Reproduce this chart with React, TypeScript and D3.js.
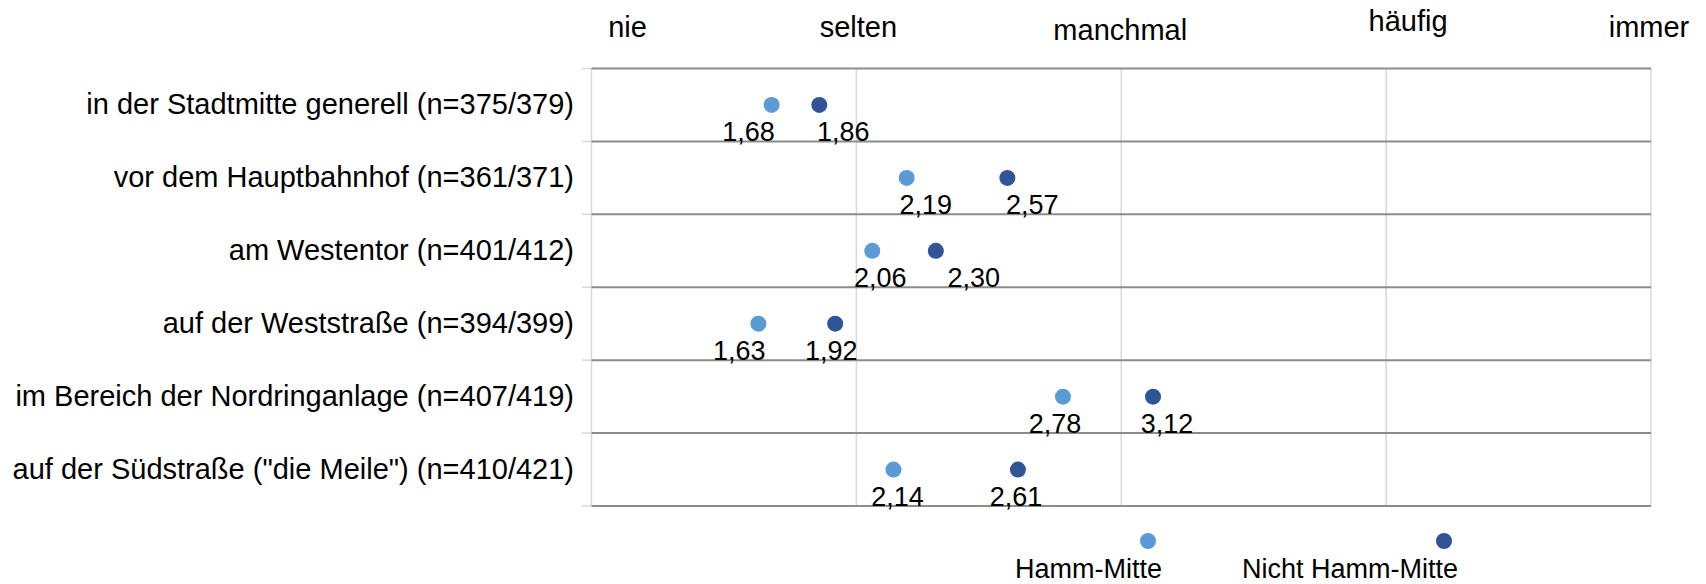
import React from "react";
import * as d3 from "d3";

const categories = [
  "in der Stadtmitte generell (n=375/379)",
  "vor dem Hauptbahnhof (n=361/371)",
  "am Westentor (n=401/412)",
  "auf der Weststraße (n=394/399)",
  "im Bereich der Nordringanlage (n=407/419)",
  'auf der Südstraße ("die Meile") (n=410/421)',
];
const hammMitte = [1.68, 2.19, 2.06, 1.63, 2.78, 2.14];
const nichtHammMitte = [1.86, 2.57, 2.3, 1.92, 3.12, 2.61];
const scaleLabels = ["nie", "selten", "manchmal", "häufig", "immer"];
const scaleValues = [1, 2, 3, 4, 5];
const seriesNames = ["Hamm-Mitte", "Nicht Hamm-Mitte"];

// manual label nudges (px), as in the original
const hammLabelDx = [-23, 19, 8, -19, -8, 4];
const nichtLabelDx = [24, 25, 38, -4, 14, -2];
const headerDx = [36, 2, -1, 22, -2];
const headerDy = [0, 0, 3, -6, 0];

const W = 1706;
const H = 584;
const FONT = "'Liberation Sans', Arial, sans-serif";
const LIGHT = "#5B9BD5";
const DARK = "#2F5597";

export default function App() {
  const x = d3.scaleLinear().domain([1, 5]).range([591.5, 1651]);
  const y = d3.scaleBand<string>().domain(categories).range([68.5, 506]);
  const fmt = (v: number) => d3.format(".2f")(v).replace(".", ",");
  const bw = y.bandwidth();
  const lines = categories.map((c) => y(c)!).concat([y.range()[1]]);

  return (
    <svg
      width={W}
      height={H}
      style={{ position: "absolute", left: 0, top: 0, background: "#fff" }}
      fontFamily={FONT}
    >
      {/* header scale labels */}
      {scaleValues.map((v, i) => (
        <text
          key={"h" + i}
          x={x(v) + headerDx[i]}
          y={37 + headerDy[i]}
          fontSize={29}
          textAnchor="middle"
          fill="#000"
        >
          {scaleLabels[i]}
        </text>
      ))}

      {/* vertical gridlines */}
      {scaleValues.map((v) => (
        <line
          key={"g" + v}
          x1={x(v)}
          x2={x(v)}
          y1={y.range()[0]}
          y2={y.range()[1]}
          stroke="#d9d9d9"
          strokeWidth={1.5}
        />
      ))}

      {/* horizontal row lines and tick stubs */}
      {lines.map((ly, i) => (
        <g key={"l" + i}>
          <line x1={582} x2={x(1)} y1={ly} y2={ly} stroke="#d9d9d9" strokeWidth={1.5} />
          <line x1={x(1)} x2={x(5)} y1={ly} y2={ly} stroke="#8c8c8c" strokeWidth={2} />
        </g>
      ))}

      {/* category labels */}
      {categories.map((c) => (
        <text
          key={c}
          x={574}
          y={y(c)! + bw / 2 + 9}
          fontSize={29}
          textAnchor="end"
          fill="#000"
        >
          {c}
        </text>
      ))}

      {/* points + labels */}
      {categories.map((c, i) => {
        const cy = y(c)! + bw / 2;
        return (
          <g key={"p" + i}>
            <circle cx={x(hammMitte[i])} cy={cy} r={8} fill={LIGHT} />
            <circle cx={x(nichtHammMitte[i])} cy={cy} r={8} fill={DARK} />
            <text
              x={x(hammMitte[i]) + hammLabelDx[i]}
              y={cy + 36}
              fontSize={27}
              textAnchor="middle"
              fill="#000"
            >
              {fmt(hammMitte[i])}
            </text>
            <text
              x={x(nichtHammMitte[i]) + nichtLabelDx[i]}
              y={cy + 36}
              fontSize={27}
              textAnchor="middle"
              fill="#000"
            >
              {fmt(nichtHammMitte[i])}
            </text>
          </g>
        );
      })}

      {/* legend */}
      {seriesNames.map((s, i) => {
        const lx = i === 0 ? 1148 : 1444;
        return (
          <g key={"lg" + i}>
            <circle cx={lx} cy={541} r={8} fill={i === 0 ? LIGHT : DARK} />
            <text x={lx + 14} y={578} fontSize={27} textAnchor="end" fill="#000">
              {s}
            </text>
          </g>
        );
      })}
    </svg>
  );
}
